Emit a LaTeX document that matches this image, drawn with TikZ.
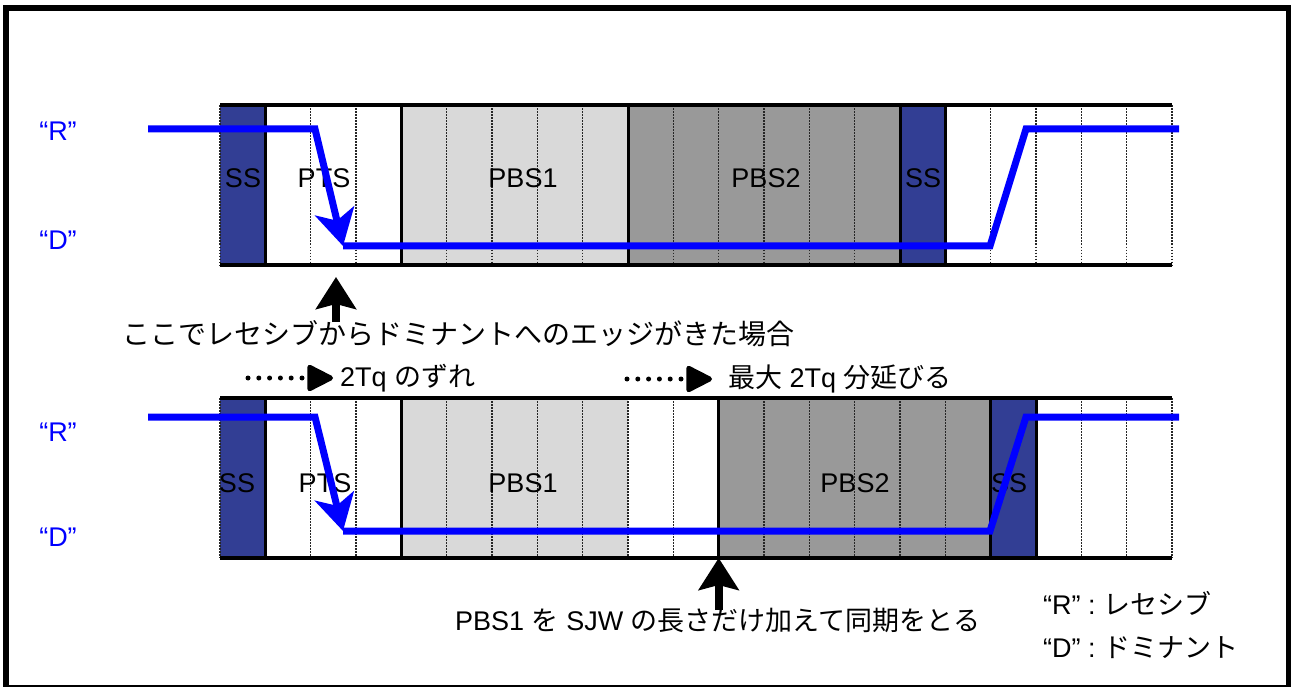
\documentclass[tikz,border=0pt]{standalone}
\usepackage{fontspec}
\setmainfont{Liberation Sans}
\newfontfamily\jp{Noto Sans CJK JP}
\usetikzlibrary{arrows.meta}
\definecolor{ssblue}{RGB}{50,62,148}
\definecolor{pbsone}{RGB}{217,217,217}
\definecolor{pbstwo}{RGB}{153,153,153}
\definecolor{sigblue}{RGB}{0,0,255}

\begin{document}
\begin{tikzpicture}[x=1pt,y=-1pt,
    every node/.style={inner sep=0pt,font=\fontsize{27}{32}\selectfont},
    bar/.style={line width=4pt},
    sep/.style={line width=3pt},
    tq/.style={line width=1.3pt,black!85,dash pattern=on 1.5pt off 1.5pt},
    signal/.style={line width=7pt,sigblue},
    fall/.style={signal,-{Stealth[length=36pt,width=40pt,inset=10pt]}},
    level/.style={text=sigblue},
    edgearrow/.style={line width=8pt,-{Stealth[length=32pt,width=40pt,inset=5pt]}},
    dotarrow/.style={line width=5pt,line cap=round,dash pattern=on 0pt off 10.8pt,-{Triangle[length=29pt,width=28pt,round=false]}}]
    \useasboundingbox (0,0) rectangle (1291,687);
    \clip (0,0) rectangle (1291,687);
    \draw[line width=5.7pt] (6,8) rectangle (1289,688);

    % first bit timing
    \fill[ssblue] (220,105.5) rectangle (265.3,265);
    \fill[pbsone] (401.3,105.5) rectangle (628,265);
    \fill[pbstwo] (628,105.5) rectangle (900,265);
    \fill[ssblue] (900,105.5) rectangle (945.3,265);
    \draw[tq] (220,105.5) -- (220,265) (310.7,105.5) -- (310.7,265) (356,105.5) -- (356,265);
    \draw[tq] (446.7,105.5) -- (446.7,265) (492,105.5) -- (492,265) (537.3,105.5) -- (537.3,265) (582.7,105.5) -- (582.7,265);
    \draw[tq] (673.3,105.5) -- (673.3,265) (718.7,105.5) -- (718.7,265) (764,105.5) -- (764,265) (809.3,105.5) -- (809.3,265) (854.7,105.5) -- (854.7,265);
    \draw[tq] (990.7,105.5) -- (990.7,265) (1036,105.5) -- (1036,265) (1081.3,105.5) -- (1081.3,265) (1126.7,105.5) -- (1126.7,265) (1172,105.5) -- (1172,265);
    \draw[sep] (265.3,105.5) -- (265.3,265) (401.3,105.5) -- (401.3,265) (628,105.5) -- (628,265) (900,105.5) -- (900,265) (945.3,105.5) -- (945.3,265);
    \draw[bar] (220,105.5) -- (1172,105.5);
    \draw[bar] (220,265) -- (1172,265);
    \node (ssa) at (243,178) {SS};
    \node (ptsa) at (324,178) {PTS};
    \node (pbsonea) at (523,178) {PBS1};
    \node (pbstwoa) at (766,178) {PBS2};
    \node (ssb) at (923,178) {SS};
    \node[level] (reca) at (58,131) {“R”};
    \node[level] (doma) at (58,240) {“D”};
    \draw[fall] (148,129) -- (315,129) -- (343,246);
    \draw[signal] (343,246) -- (990,246) -- (1026,129) -- (1179,129);

    % edge and shift
    \coordinate (edgeA) at (336,277);
    \coordinate (edgeAfoot) at (336,322);
    \draw[edgearrow] (edgeAfoot) -- (edgeA);
    \node[anchor=west,font=\fontsize{28}{32}\selectfont\jp] (edgetxt) at (122,334) {ここでレセシブからドミナントへのエッジがきた場合};
    \node[anchor=west] (shifttxt) at (340,378) {2Tq {\jp のずれ}};
    \coordinate (shiftfrom) at (248,378);
    \draw[dotarrow,shorten >=7pt] (shiftfrom) -- (shifttxt.west);
    \node[anchor=west] (longtxt) at (728,379) {{\jp 最大} 2Tq {\jp 分延びる}};
    \coordinate (longfrom) at (627,379);
    \draw[dotarrow,shorten >=16pt] (longfrom) -- (longtxt.west);

    % second bit timing
    \fill[ssblue] (220,398) rectangle (265.3,557.5);
    \fill[pbsone] (401.3,398) rectangle (628,557.5);
    \fill[pbstwo] (718.7,398) rectangle (990.7,557.5);
    \fill[ssblue] (990.7,398) rectangle (1036,557.5);
    \draw[tq] (220,398) -- (220,557.5) (310.7,398) -- (310.7,557.5) (356,398) -- (356,557.5);
    \draw[tq] (446.7,398) -- (446.7,557.5) (492,398) -- (492,557.5) (537.3,398) -- (537.3,557.5) (582.7,398) -- (582.7,557.5);
    \draw[tq] (628,398) -- (628,557.5) (673.3,398) -- (673.3,557.5);
    \draw[tq] (764,398) -- (764,557.5) (809.3,398) -- (809.3,557.5) (854.7,398) -- (854.7,557.5) (900,398) -- (900,557.5) (945.3,398) -- (945.3,557.5);
    \draw[tq] (1081.3,398) -- (1081.3,557.5) (1126.7,398) -- (1126.7,557.5) (1172,398) -- (1172,557.5);
    \draw[sep] (265.3,398) -- (265.3,557.5) (401.3,398) -- (401.3,557.5) (718.7,398) -- (718.7,557.5) (990.7,398) -- (990.7,557.5) (1036,398) -- (1036,557.5);
    \draw[bar] (220,398) -- (1172,398);
    \draw[bar] (220,557.5) -- (1172,557.5);
    \node (ssc) at (237,483) {SS};
    \node (ptsc) at (325,483) {PTS};
    \node (pbsonec) at (523,483) {PBS1};
    \node (pbstwoc) at (855,483) {PBS2};
    \node (ssd) at (1009,483) {SS};
    \node[level] (recc) at (58,432) {“R”};
    \node[level] (domc) at (58,537) {“D”};
    \draw[fall] (148,417) -- (315,417) -- (343,531);
    \draw[signal] (343,531) -- (990,531) -- (1026,417) -- (1179,417);

    % resync
    \coordinate (edgeB) at (718.7,558);
    \coordinate (edgeBfoot) at (718.7,610);
    \draw[edgearrow] (edgeBfoot) -- (edgeB);
    \node[anchor=west] (synctxt) at (455,620) {PBS1 {\jp を} SJW {\jp の長さだけ加えて同期をとる}};

    % legend
    \node[anchor=west] (legr) at (1043,603) {“R” : {\jp レセシブ}};
    \node[anchor=west] (legd) at (1043,648) {“D” : {\jp ドミナント}};
\end{tikzpicture}
\end{document}
